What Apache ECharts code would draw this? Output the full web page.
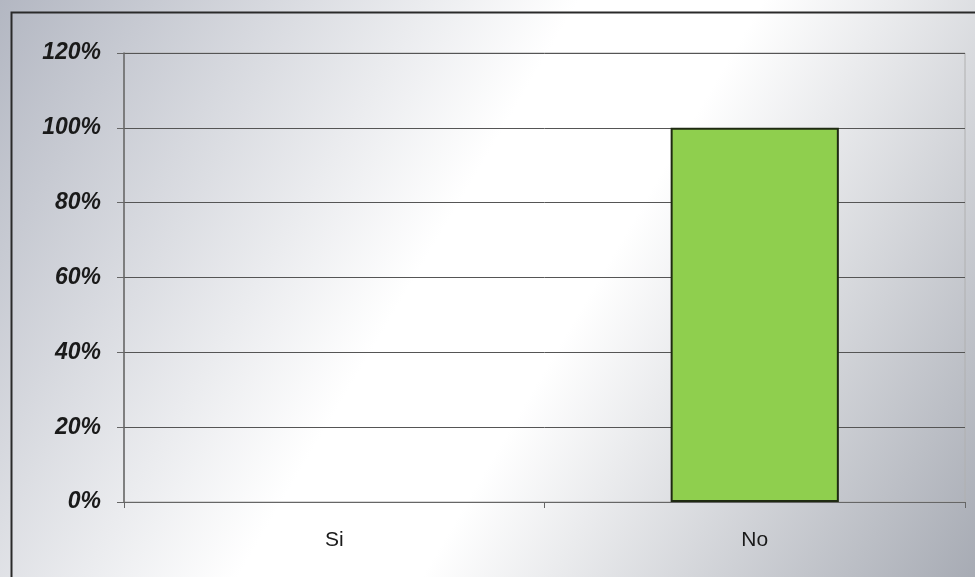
<!DOCTYPE html>
<html>
<head>
<meta charset="utf-8">
<script src="https://cdn.jsdelivr.net/npm/echarts@6/dist/echarts.min.js"></script>
<style>
  html, body { margin: 0; padding: 0; }
  #chart { width: 975px; height: 577px; }
</style>
</head>
<body>
<div id="chart"></div>
<script>
// data
const categories = ["Si", "No"];
const values = [0, 100];
const yTicks = [0, 20, 40, 60, 80, 100, 120];

const chart = echarts.init(document.getElementById("chart"));

chart.setOption({
  backgroundColor: new echarts.graphic.LinearGradient(0, 0, 1, 1, [
    { offset: 0, color: "#b3b7c2" },
    { offset: 0.44, color: "#ffffff" },
    { offset: 0.58, color: "#ffffff" },
    { offset: 1, color: "#a7abb4" },
  ]),
  animation: false,
  graphic: [
    {
      type: "rect",
      shape: { x: 11.5, y: 12.5, width: 980, height: 580 },
      style: { fill: "none", stroke: "#2a2a2a", lineWidth: 2 },
    },
  ],
  grid: {
    left: 124,
    right: 10,
    top: 53,
    bottom: 75,
    show: true,
    borderColor: "#b0b0b0",
    borderWidth: 1,
    backgroundColor: "transparent",
  },
  xAxis: {
    type: "category",
    data: categories,
    axisLine: { lineStyle: { color: "#666", width: 1 } },
    axisTick: { show: true, length: 6, lineStyle: { color: "#666" } },
    axisLabel: {
      color: "#1a1a1a",
      fontFamily: "Liberation Sans, Arial",
      fontSize: 21,
      margin: 28,
    },
  },
  yAxis: {
    type: "value",
    min: 0,
    max: yTicks[yTicks.length - 1],
    interval: 20,
    axisLine: { show: true, lineStyle: { color: "#666", width: 1.5 } },
    axisTick: { show: true, length: 7, lineStyle: { color: "#666" } },
    splitLine: { lineStyle: { color: "#555", width: 1 } },
    axisLabel: {
      formatter: "{value}%",
      color: "#1a1a1a",
      fontFamily: "Liberation Sans, Arial",
      fontSize: 23,
      fontWeight: "bold",
      fontStyle: "italic",
      margin: 23,
    },
  },
  series: [
    {
      type: "bar",
      data: values.map((v) => ({
        value: v,
        itemStyle: { borderWidth: v > 0 ? 2 : 0 },
      })),
      barWidth: "40%",
      itemStyle: {
        color: "#8fcf4e",
        borderColor: "#1f2a12",
      },
    },
  ],
});
</script>
</body>
</html>
